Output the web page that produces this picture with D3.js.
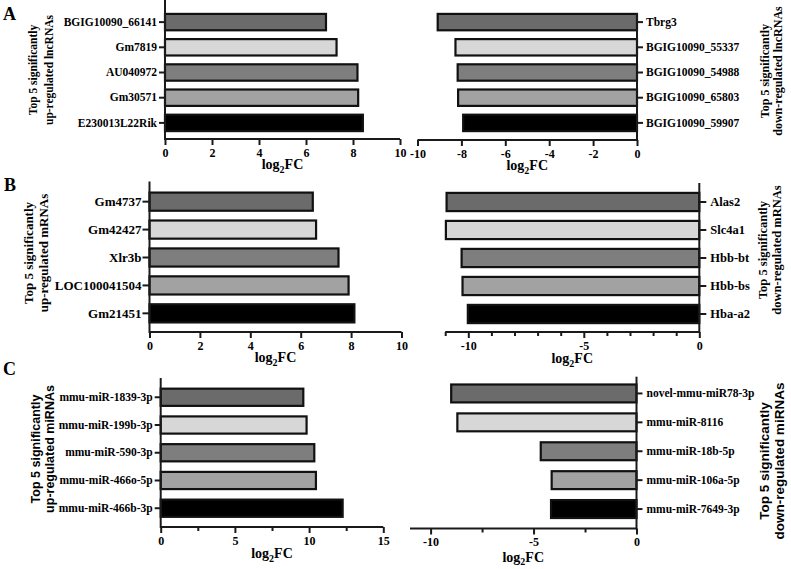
<!DOCTYPE html>
<html>
<head>
<meta charset="utf-8">
<script src="https://cdn.jsdelivr.net/npm/d3@7"></script>
<style>
  html, body { margin: 0; padding: 0; background: #fff; }
  svg { display: block; }
</style>
</head>
<body>
<svg id="chart" width="791" height="569"></svg>
<script>
// ---------------- DATA ----------------
const lncUpGenes   = ["BGIG10090_66141", "Gm7819", "AU040972", "Gm30571", "E230013L22Rik"];
const lncUpFC      = [6.85, 7.3, 8.19, 8.22, 8.42];
const lncDownGenes = ["Tbrg3", "BGIG10090_55337", "BGIG10090_54988", "BGIG10090_65803", "BGIG10090_59907"];
const lncDownFC    = [-9.08, -8.27, -8.17, -8.15, -7.92];

const mrnaUpGenes   = ["Gm4737", "Gm42427", "Xlr3b", "LOC100041504", "Gm21451"];
const mrnaUpFC      = [6.48, 6.61, 7.5, 7.9, 8.13];
const mrnaDownGenes = ["Alas2", "Slc4a1", "Hbb-bt", "Hbb-bs", "Hba-a2"];
const mrnaDownFC    = [-10.94, -10.97, -10.29, -10.25, -10.02];

const mirUpGenes   = ["mmu-miR-1839-3p", "mmu-miR-199b-3p", "mmu-miR-590-3p", "mmu-miR-466o-5p", "mmu-miR-466b-3p"];
const mirUpFC      = [9.61, 9.83, 10.35, 10.46, 12.26];
const mirDownGenes = ["novel-mmu-miR78-3p", "mmu-miR-8116", "mmu-miR-18b-5p", "mmu-miR-106a-5p", "mmu-miR-7649-3p"];
const mirDownFC    = [-9.0, -8.7, -4.65, -4.12, -4.15];

const lncUpTicks    = [0, 2, 4, 6, 8, 10];
const lncDownTicks  = [-10, -8, -6, -4, -2, 0];
const mrnaUpTicks   = [0, 2, 4, 6, 8, 10];
const mrnaDownTicks = [-10, -5, 0];
const mrnaDownMinor = [-11, -9, -8, -7, -6, -4, -3, -2, -1];
const mirUpTicks    = [0, 5, 10, 15];
const mirUpMinor    = [2.5, 7.5, 12.5];
const mirDownTicks  = [-10, -5, 0];
const mirDownMinor  = [-7.5, -2.5];

const barColors = ["#6b6b6b", "#d7d7d7", "#7e7e7e", "#a2a2a2", "#000000"];

const titlesLnc  = [["Top 5 significantly", "up-regulated lncRNAs"], ["Top 5 significantly", "down-regulated lncRNAs"]];
const titlesMrna = [["Top 5 significantly", "up-regulated mRNAs"], ["Top 5 significantly", "down-regulated mRNAs"]];
const titlesMir  = [["Top 5 significantly", "up-regulated miRNAs"], ["Top 5 significantly", "down-regulated miRNAs"]];

// ---------------- LAYOUT ----------------
const SERIF = "'Liberation Serif', 'Times New Roman', serif";
const SANS  = "'Liberation Sans', Arial, sans-serif";

const panels = [
  // A
  { genes: lncUpGenes, fc: lncUpFC, side: "up", domain: [0, 10], range: [165, 400],
    axisY: 139, axisTop: 0, band: [9.5, 135.5], pad: 0.35, ticks: lncUpTicks, minor: [],
    catSize: 11.5, catTick: 6, catPad: 2,
    title: titlesLnc[0], titleX: [33, 49], titleY: 70, titleFont: SERIF, titleSize: 11.5, labelDy: 30 },
  { genes: lncDownGenes, fc: lncDownFC, side: "down", domain: [-10, 0], range: [417.5, 637],
    axisY: 140, axisTop: 13, band: [9.5, 135.5], pad: 0.35, ticks: lncDownTicks, minor: [],
    catSize: 11.5, catTick: 6, catPad: 3,
    title: titlesLnc[1], titleX: [765, 778], titleY: 71, titleFont: SERIF, titleSize: 12, labelDy: 30 },
  // B
  { genes: mrnaUpGenes, fc: mrnaUpFC, side: "up", domain: [0, 10], range: [149.5, 401.5],
    axisY: 332, axisTop: 181.5, band: [187.7, 327.3], pad: 0.35, ticks: mrnaUpTicks, minor: [],
    catSize: 13, catTick: 7, catPad: 1,
    title: titlesMrna[0], titleX: [28, 43], titleY: 253, titleFont: SERIF, titleSize: 13, labelDy: 30 },
  { genes: mrnaDownGenes, fc: mrnaDownFC, side: "down", domain: [-11, 0], range: [445.2, 699.3],
    axisY: 332, axisTop: 183, band: [188, 328], pad: 0.35, ticks: mrnaDownTicks, minor: mrnaDownMinor,
    catSize: 12.5, catTick: 7, catPad: 4,
    title: titlesMrna[1], titleX: [763, 777], titleY: 250, titleFont: SERIF, titleSize: 12.5, labelDy: 31 },
  // C
  { genes: mirUpGenes, fc: mirUpFC, side: "up", domain: [0, 15], range: [160.7, 383.3],
    axisY: 527, axisTop: 378, band: [383.4, 522.1], pad: 0.38, ticks: mirUpTicks, minor: mirUpMinor,
    catSize: 11.5, catTick: 6, catPad: 2,
    title: titlesMir[0], titleX: [36, 50], titleY: 449, titleFont: SANS, titleSize: 12.5, labelDy: 31 },
  { genes: mirDownGenes, fc: mirDownFC, side: "down", domain: [-11, 0], range: [410, 636.5],
    axisY: 528.5, axisTop: 376.7, band: [379, 523.5], pad: 0.38, ticks: mirDownTicks, minor: mirDownMinor,
    catSize: 11.5, catTick: 6, catPad: 4,
    title: titlesMir[1], titleX: [764, 779], titleY: 461, titleFont: SANS, titleSize: 13.5, labelDy: 33 }
];

const svg = d3.select("#chart");
const AXIS_COLOR = "#1a1a1a";

panels.forEach(p => {
  const g = svg.append("g");
  const x = d3.scaleLinear().domain(p.domain).range(p.range);
  const y = d3.scaleBand().domain(p.genes).range(p.band).paddingInner(p.pad).paddingOuter(p.pad / 2);
  const zeroX = x(0);

  // bars
  g.selectAll("rect.bar")
    .data(p.genes.map((gname, i) => ({ gene: gname, v: p.fc[i], i })))
    .join("rect")
    .attr("class", "bar")
    .attr("x", d => Math.min(x(0), x(d.v)))
    .attr("width", d => Math.abs(x(d.v) - x(0)))
    .attr("y", d => y(d.gene))
    .attr("height", y.bandwidth())
    .attr("fill", d => barColors[d.i])
    .attr("stroke", "#111")
    .attr("stroke-width", 2.2);

  // x axis (major)
  const xAxis = d3.axisBottom(x).tickValues(p.ticks).tickSize(6).tickPadding(3)
    .tickFormat(d => String(d));
  const gx = g.append("g").attr("transform", `translate(0,${p.axisY})`).call(xAxis);
  gx.select(".domain").attr("stroke", AXIS_COLOR).attr("stroke-width", 2)
    .attr("d", `M${p.range[0]},0H${p.range[1]}`);
  gx.selectAll(".tick line").attr("stroke", AXIS_COLOR).attr("stroke-width", 2);
  gx.selectAll(".tick text").attr("fill", "#000")
    .style("font-family", SERIF).style("font-weight", "bold").style("font-size", "12px");

  // minor ticks
  if (p.minor.length) {
    const mAxis = d3.axisBottom(x).tickValues(p.minor).tickSize(4).tickFormat("");
    const gm = g.append("g").attr("transform", `translate(0,${p.axisY})`).call(mAxis);
    gm.select(".domain").remove();
    gm.selectAll(".tick line").attr("stroke", AXIS_COLOR).attr("stroke-width", 2);
  }

  // y axis (category)
  const yAxis = (p.side === "up" ? d3.axisLeft(y) : d3.axisRight(y)).tickSize(p.catTick).tickPadding(p.catPad);
  const gy = g.append("g").attr("transform", `translate(${zeroX},0)`).call(yAxis);
  gy.select(".domain").attr("stroke", AXIS_COLOR).attr("stroke-width", 2)
    .attr("d", `M0,${p.axisTop}V${p.axisY + 1}`);
  gy.selectAll(".tick line").attr("stroke", AXIS_COLOR).attr("stroke-width", 2);
  gy.selectAll(".tick text").attr("fill", "#000")
    .style("font-family", SERIF).style("font-weight", "bold").style("font-size", p.catSize + "px");

  // x axis title log2FC
  const lbl = g.append("text")
    .attr("x", (p.range[0] + p.range[1]) / 2)
    .attr("y", p.axisY + p.labelDy)
    .attr("text-anchor", "middle")
    .style("font-family", SERIF).style("font-weight", "bold").style("font-size", "14px")
    .attr("fill", "#000");
  lbl.append("tspan").text("log");
  lbl.append("tspan").text("2").attr("dy", 3.5).style("font-size", "10px");
  lbl.append("tspan").text("FC").attr("dy", -3.5);

  // rotated y title
  p.title.forEach((line, k) => {
    g.append("text")
      .attr("transform", `translate(${p.titleX[k]},${p.titleY}) rotate(-90)`)
      .attr("text-anchor", "middle")
      .attr("dominant-baseline", "central")
      .style("font-family", p.titleFont).style("font-weight", "bold")
      .style("font-size", p.titleSize + "px")
      .attr("fill", "#000")
      .text(line);
  });
});

// panel letters
const letters = [["A", 3, 20], ["B", 4, 191], ["C", 3, 375]];
svg.selectAll("text.letter").data(letters).join("text")
  .attr("class", "letter")
  .attr("x", d => d[1]).attr("y", d => d[2])
  .style("font-family", SERIF).style("font-weight", "bold").style("font-size", "18px")
  .attr("fill", "#000")
  .text(d => d[0]);
</script>
</body>
</html>
